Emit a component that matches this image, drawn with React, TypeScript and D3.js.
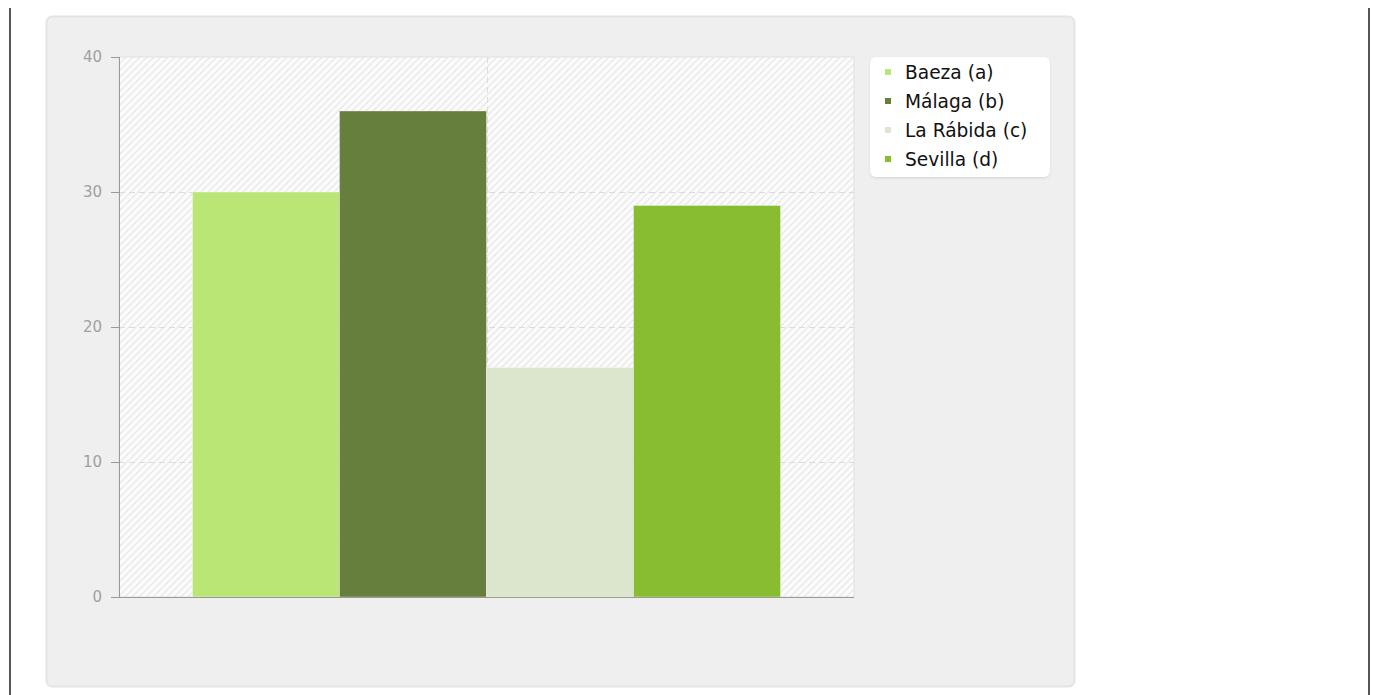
import React, { useRef, useEffect } from 'react'
import * as d3 from 'd3'

const categories = ['']
const seriesNames = ['Baeza (a)', 'Málaga (b)', 'La Rábida (c)', 'Sevilla (d)']
const seriesValues = [30, 36, 17, 29]
const seriesColors = ['#b9e675', '#667f3d', '#dce6cd', '#88bd31']
const yTicks = [0, 10, 20, 30, 40]

const width = 1380
const height = 695
const margin = { top: 57, right: 526, bottom: 98, left: 119 }

const App: React.FC = () => {
  const svgRef = useRef<SVGSVGElement | null>(null)

  useEffect(() => {
    if (!svgRef.current) return
    const svg = d3.select(svgRef.current)
    svg.selectAll('*').remove()

    const iw = width - margin.left - margin.right
    const ih = height - margin.top - margin.bottom
    const font = '"DejaVu Sans", Verdana, sans-serif'

    // page frame lines
    svg.append('rect').attr('x', 9).attr('y', 8).attr('width', 2).attr('height', height - 8).attr('fill', '#555')
    svg.append('rect').attr('x', 1368).attr('y', 8).attr('width', 2).attr('height', height - 8).attr('fill', '#555')

    const defs = svg.append('defs')
    const pat = defs.append('pattern')
      .attr('id', 'hatch')
      .attr('patternUnits', 'userSpaceOnUse')
      .attr('width', 7)
      .attr('height', 7)
    pat.append('rect').attr('width', 7).attr('height', 7).attr('fill', '#fbfbfb')
    pat.append('path')
      .attr('d', 'M-1,1 L1,-1 M0,7 L7,0 M6,8 L8,6')
      .attr('stroke', '#e9e9e9')
      .attr('stroke-width', 1.3)

    const shadow = defs.append('filter').attr('id', 'shadow').attr('x', '-10%').attr('y', '-10%').attr('width', '120%').attr('height', '130%')
    shadow.append('feDropShadow').attr('dx', 0).attr('dy', 1).attr('stdDeviation', 1.2).attr('flood-color', '#000').attr('flood-opacity', 0.12)

    // panel
    svg.append('rect')
      .attr('x', 46.5).attr('y', 16.5)
      .attr('width', 1028).attr('height', 670)
      .attr('rx', 6)
      .attr('fill', '#efefef')
      .attr('stroke', '#e4e4e4')
      .attr('stroke-width', 2)

    const chart = svg.append('g').attr('transform', `translate(${margin.left},${margin.top})`)

    const x0 = d3.scaleBand<string>().domain(categories).range([0, iw]).paddingInner(0.2).paddingOuter(0.1)
    const x1 = d3.scaleBand<string>().domain(seriesNames).range([0, x0.bandwidth()])
    const y = d3.scaleLinear().domain([0, 40]).range([ih, 0])

    chart.append('rect').attr('width', iw).attr('height', ih).attr('fill', 'url(#hatch)')
      .attr('stroke', '#e0e0e0')

    // gridlines
    chart.selectAll('line.hgrid')
      .data(yTicks.filter(t => t > 0 && t < 40))
      .join('line')
      .attr('x1', 0).attr('x2', iw)
      .attr('y1', d => Math.round(y(d)) + 0.5).attr('y2', d => Math.round(y(d)) + 0.5)
      .attr('stroke', '#dcdcdc')
      .attr('stroke-dasharray', '6,4')
    chart.append('line')
      .attr('x1', Math.round(iw / 2) + 0.5).attr('x2', Math.round(iw / 2) + 0.5)
      .attr('y1', 0).attr('y2', ih)
      .attr('stroke', '#dcdcdc')
      .attr('stroke-dasharray', '6,4')

    // bars
    const groups = chart.selectAll('g.cat').data(categories).join('g')
      .attr('transform', d => `translate(${x0(d)},0)`)
    groups.selectAll('rect')
      .data(seriesNames.map((s, i) => ({ s, v: seriesValues[i], c: seriesColors[i] })))
      .join('rect')
      .attr('x', d => x1(d.s)!)
      .attr('y', d => y(d.v))
      .attr('width', x1.bandwidth())
      .attr('height', d => ih - y(d.v))
      .attr('fill', d => d.c)
      .attr('stroke', 'rgba(255,255,255,0.35)')
      .attr('stroke-width', 1)

    // axes
    chart.append('line').attr('x1', 0.5).attr('x2', 0.5).attr('y1', 0).attr('y2', ih).attr('stroke', '#999')
    chart.append('line').attr('x1', 0).attr('x2', iw).attr('y1', ih + 0.5).attr('y2', ih + 0.5).attr('stroke', '#999')
    chart.selectAll('line.tick')
      .data(yTicks)
      .join('line')
      .attr('x1', -8).attr('x2', 0)
      .attr('y1', d => Math.round(y(d)) + 0.5).attr('y2', d => Math.round(y(d)) + 0.5)
      .attr('stroke', '#999')
    chart.selectAll('text.tick')
      .data(yTicks)
      .join('text')
      .attr('x', -17)
      .attr('y', d => y(d))
      .attr('dy', '0.35em')
      .attr('text-anchor', 'end')
      .attr('fill', '#a0a0a0')
      .style('font-family', font)
      .style('font-size', '15px')
      .text(d => String(d))

    // legend
    const legend = svg.append('g').attr('transform', 'translate(870,57)')
    legend.append('rect')
      .attr('width', 180).attr('height', 120)
      .attr('rx', 6)
      .attr('fill', '#fff')
      .attr('filter', 'url(#shadow)')
    const items = legend.selectAll('g.item')
      .data(seriesNames.map((s, i) => ({ s, c: seriesColors[i] })))
      .join('g')
      .attr('transform', (_, i) => `translate(0,${15 + i * 29})`)
    items.append('rect').attr('x', 15).attr('y', -3).attr('width', 6).attr('height', 6).attr('fill', d => d.c)
    items.append('text')
      .attr('x', 35)
      .attr('y', 0)
      .attr('dy', '0.35em')
      .attr('fill', '#111')
      .style('font-family', font)
      .style('font-size', '18.6px')
      .text(d => d.s)
  }, [])

  return <svg ref={svgRef} width={width} height={height} style={{ position: 'absolute', left: 0, top: 0 }} />
}

export default App
